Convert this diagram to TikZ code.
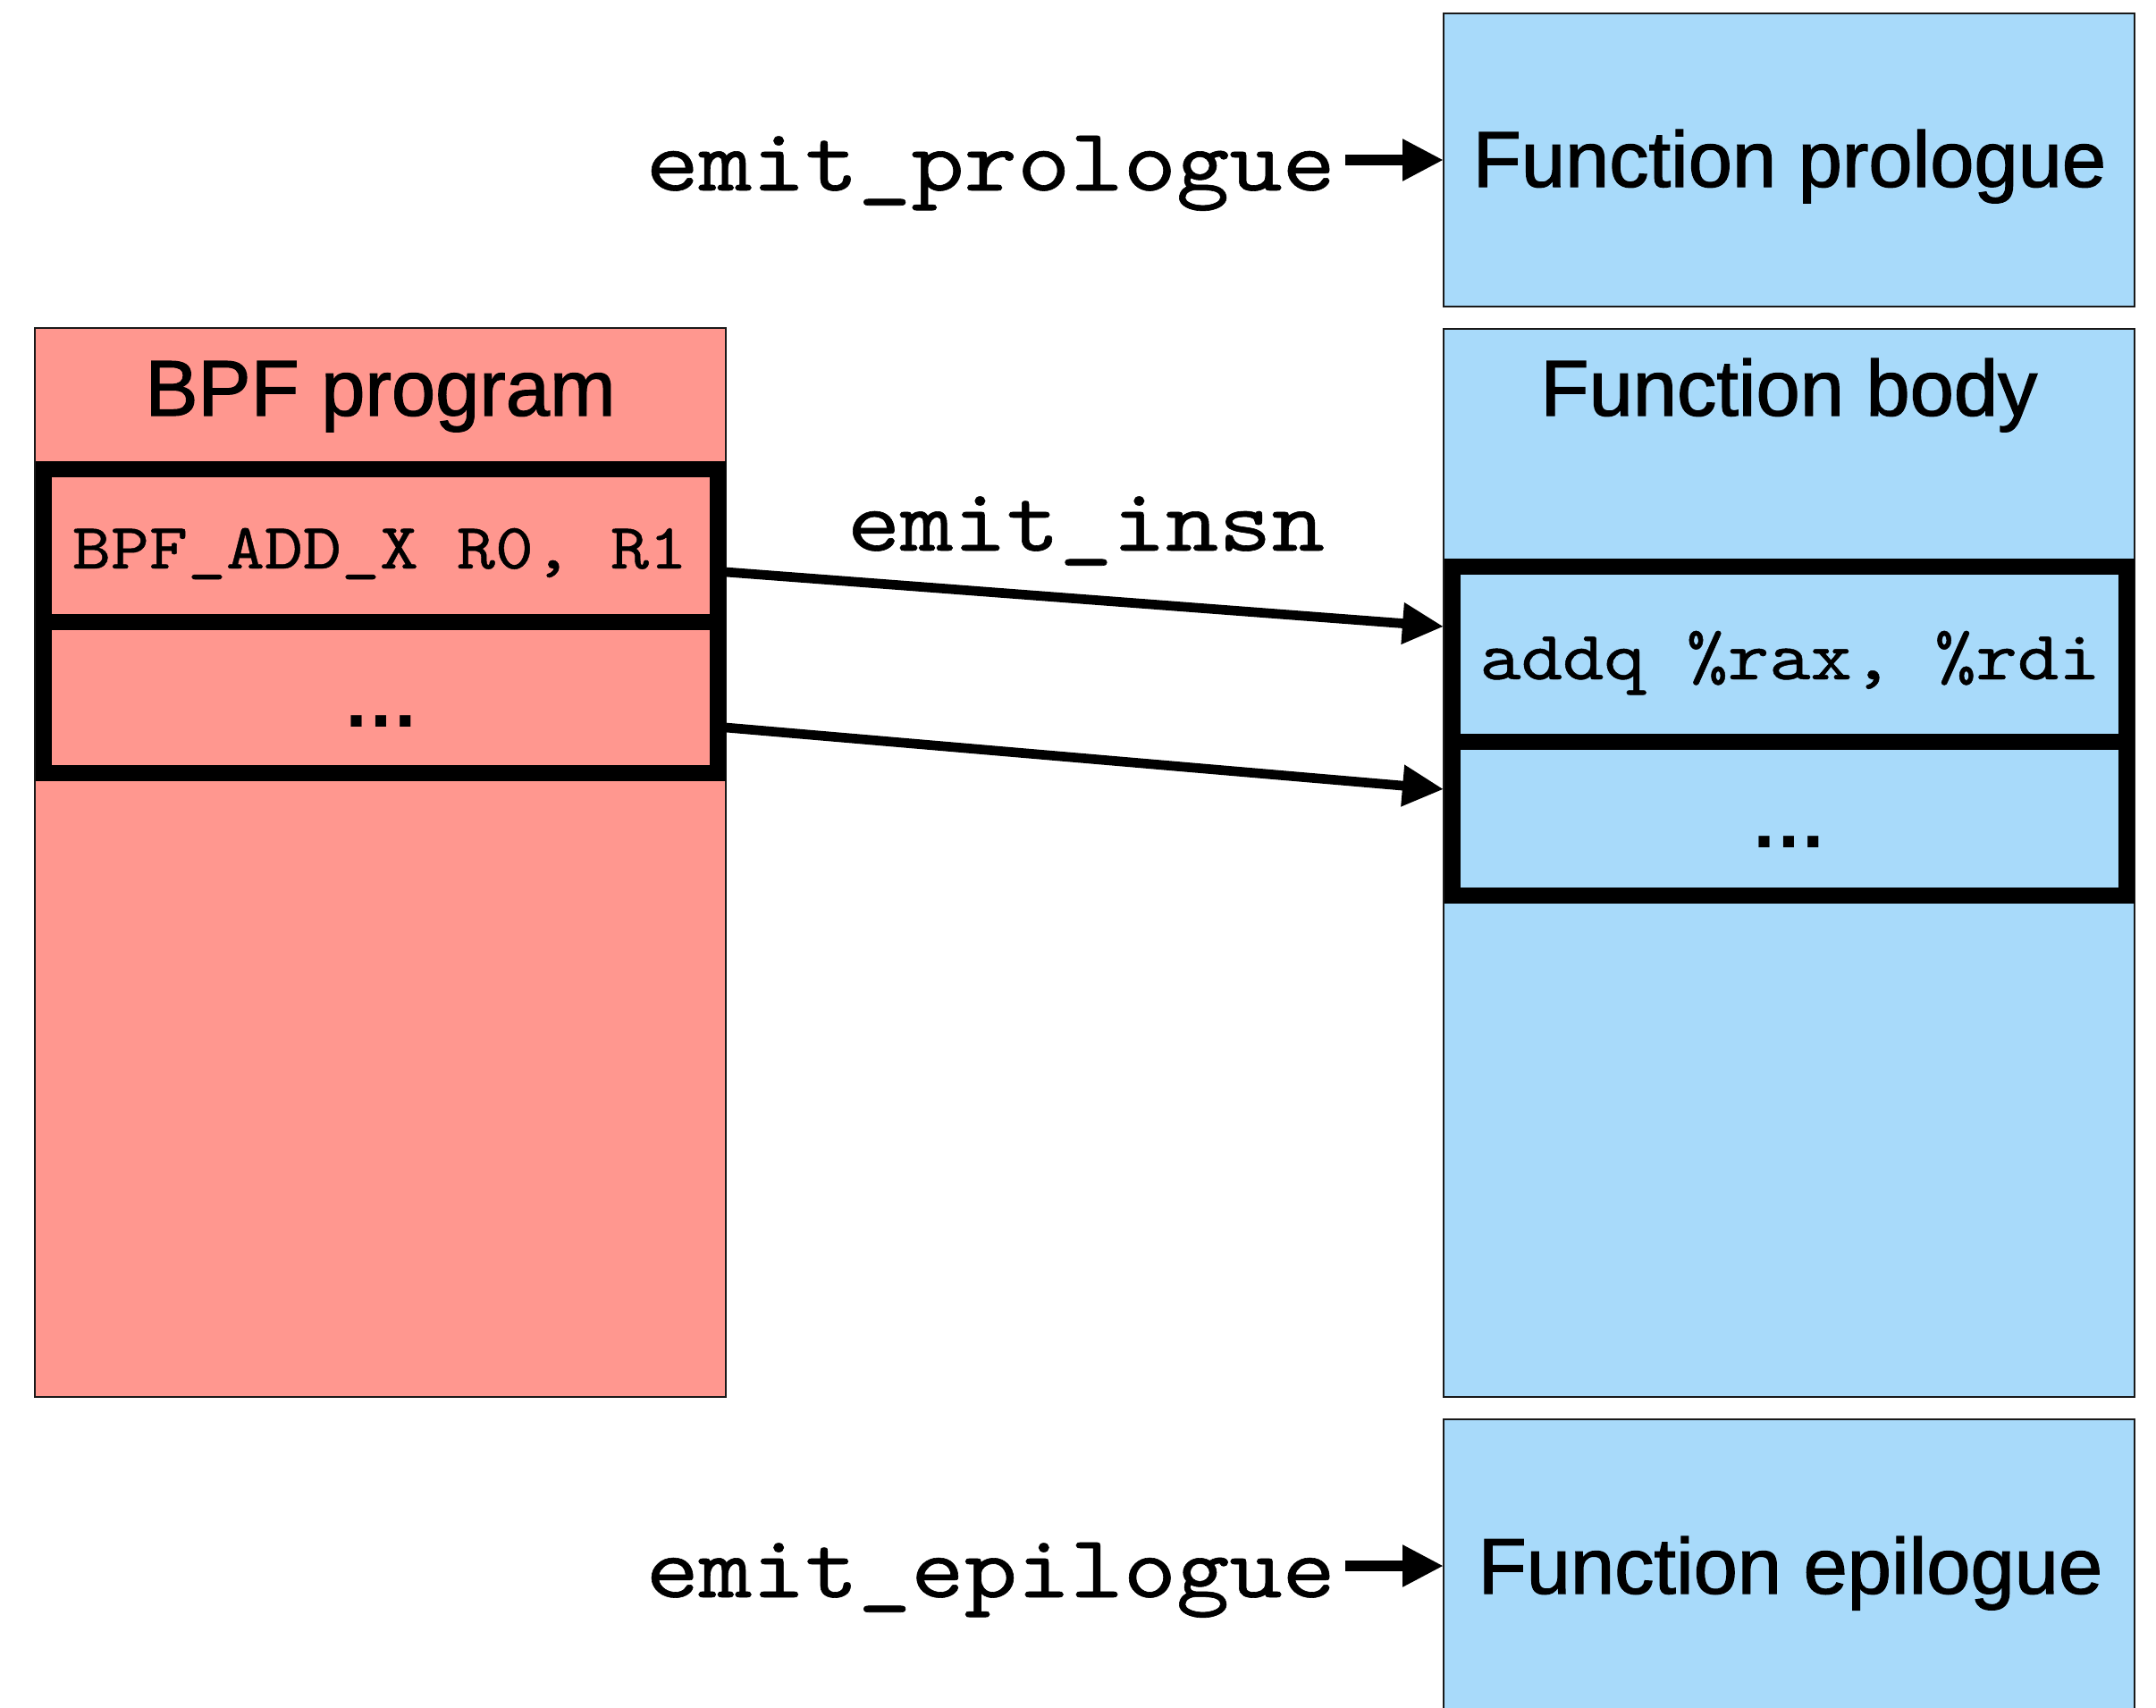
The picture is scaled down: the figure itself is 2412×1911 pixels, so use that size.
\documentclass[tikz,border=0pt]{standalone}
\usepackage{fontspec}
\setmainfont{Liberation Sans}
\newfontfamily\titlefont{Liberation Sans}[FakeBold=1.4]
\newfontfamily\codefont{lmmono10-regular.otf}[FakeStretch=1.13,FakeBold=0.6]
\usetikzlibrary{arrows.meta}

\definecolor{srcfill}{RGB}{255,151,143}
\definecolor{jitfill}{RGB}{168,218,250}

\newcommand{\sansat}[1]{\titlefont\fontsize{#1}{#1}\selectfont}
\newcommand{\codeat}[1]{\codefont\fontsize{#1}{#1}\selectfont}

\begin{document}
\begin{tikzpicture}[x=1pt,y=-1pt,
  panel/.style={draw=black!90, line width=2.2pt, rectangle, anchor=north west,
    inner sep=0pt, outer sep=0pt},
  cellbox/.style={draw=black, line width=18pt, rectangle, anchor=north west,
    inner sep=0pt, outer sep=0pt, minimum width=#1},
  label/.style={inner sep=0pt, outer sep=0pt, anchor=base, text=black},
  title/.style={label, font=\sansat{88.5}},
  dots/.style={label, font=\fontsize{86}{86}\selectfont\bfseries},
  fname/.style={inner sep=0pt, outer sep=0pt, font=\codeat{100}},
  sidearrow/.style={draw=black, line width=12.5pt,
    -{Triangle[length=46pt,width=44pt]}},
  insnarrow/.style={draw=black, line width=10.7pt,
    -{Triangle[length=46pt,width=44pt]}}
]
% canvas
\fill[white] (0,0) rectangle (2412,1911);
\useasboundingbox (0,0) rectangle (2412,1911);

% ---- BPF program (source side) ----
\node[panel, fill=srcfill, minimum width=772.7pt, minimum height=1196pt]
  (bpf) at (39.3,367) {};
\node[title] (bpftitle) at (425.7,465) {BPF program};
\node[cellbox=754.5pt, minimum height=170.5pt] (bpfc1) at (48.5,525) {};
\node[cellbox=754.5pt, minimum height=169.5pt] (bpfc2) at (48.5,695.5) {};
\node[label, font=\codeat{72.5}] (bpfinsn) at (425,636) {BPF\_ADD\_X R0, R1};
\node[dots] (bpfmore) at (426,813) {…};

% ---- Generated native function ----
\node[panel, fill=jitfill, minimum width=773pt, minimum height=328pt]
  (pro) at (1615,15) {};
\node[title] (protitle) at (2002,209) {Function prologue};

\node[panel, fill=jitfill, minimum width=773pt, minimum height=1195pt]
  (body) at (1615,368) {};
\node[title] (bodytitle) at (2001.5,465) {Function body};
\node[cellbox=754.5pt, minimum height=196.5pt] (bodyc1) at (1624.5,633.5) {};
\node[cellbox=754.5pt, minimum height=171.5pt] (bodyc2) at (1624.5,830) {};
\node[label, font=\codeat{78}] (x86insn) at (2002.5,760) {addq \%rax, \%rdi};
\node[dots] (bodymore) at (2001,948) {…};

\node[panel, fill=jitfill, minimum width=773pt, minimum height=328pt]
  (epi) at (1615,1588) {};
\node[title] (epititle) at (2003,1783) {Function epilogue};

% ---- emitter functions ----
\node[fname, anchor=base east] (emitpro) at (1494,213) {emit\_prologue};
\node[fname, anchor=base east] (emitepi) at (1494,1787) {emit\_epilogue};
\node[fname, anchor=base] (emitinsn) at (1215,616) {emit\_insn};

% ---- connectors ----
\draw[sidearrow] (1505,0 |- pro.west) -- (pro.west);
\draw[sidearrow] (1505,0 |- epi.west) -- (epi.west);

\coordinate (from1) at (bpf.east |- 0,640);
\coordinate (to1)   at (body.west |- 0,701);
\coordinate (from2) at (bpf.east |- 0,814);
\coordinate (to2)   at (body.west |- 0,883);
\draw[insnarrow] (from1) -- (to1);
\draw[insnarrow] (from2) -- (to2);
\end{tikzpicture}
\end{document}
